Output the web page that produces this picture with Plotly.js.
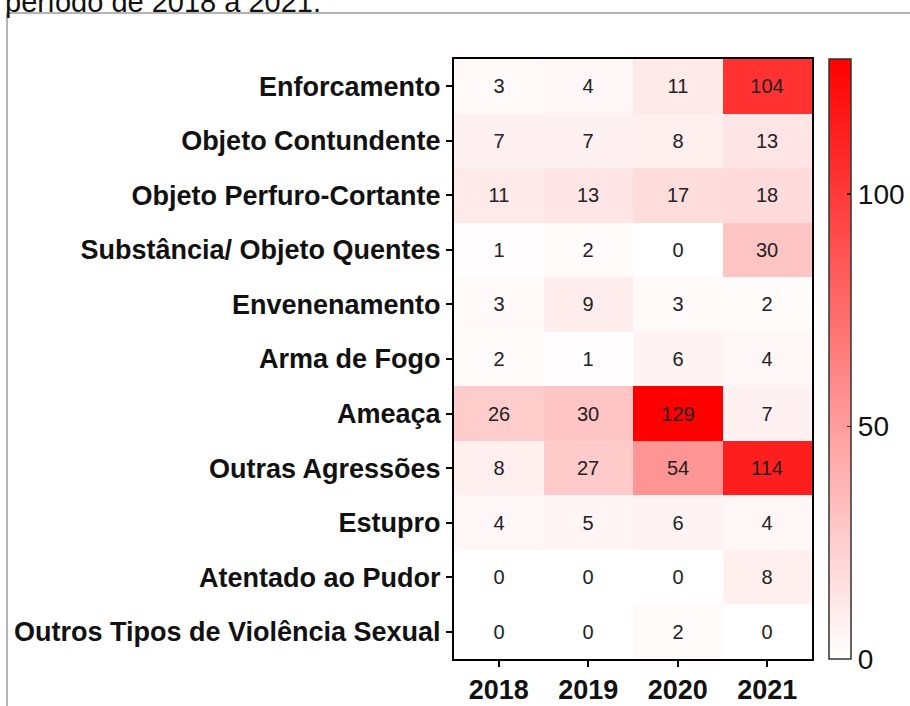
<!DOCTYPE html>
<html>
<head>
<meta charset="utf-8">
<script src="https://cdn.plot.ly/plotly-3.0.1.min.js"></script>
<style>html,body{margin:0;padding:0;background:#fff;}#chart{width:910px;height:706px;}</style>
</head>
<body>
<div id="chart"></div>
<script>
const years = ['2018', '2019', '2020', '2021'];
const categories = [
  'Enforcamento',
  'Objeto Contundente',
  'Objeto Perfuro-Cortante',
  'Substância/ Objeto Quentes',
  'Envenenamento',
  'Arma de Fogo',
  'Ameaça',
  'Outras Agressões',
  'Estupro',
  'Atentado ao Pudor',
  'Outros Tipos de Violência Sexual'
];
const enforcamento = [3, 4, 11, 104];
const objetoContundente = [7, 7, 8, 13];
const objetoPerfuroCortante = [11, 13, 17, 18];
const substanciaQuentes = [1, 2, 0, 30];
const envenenamento = [3, 9, 3, 2];
const armaDeFogo = [2, 1, 6, 4];
const ameaca = [26, 30, 129, 7];
const outrasAgressoes = [8, 27, 54, 114];
const estupro = [4, 5, 6, 4];
const atentadoAoPudor = [0, 0, 0, 8];
const outrosViolenciaSexual = [0, 0, 2, 0];
const colorbarTicks = [0, 50, 100];
const headerText = 'período de 2018 a 2021.';

const z = [enforcamento, objetoContundente, objetoPerfuroCortante, substanciaQuentes,
  envenenamento, armaDeFogo, ameaca, outrasAgressoes, estupro, atentadoAoPudor, outrosViolenciaSexual];

const FONT = 'Liberation Sans, Arial, sans-serif';
const PL = 454, PR = 812, PT = 59, PB = 659;
const PW = PR - PL, PH = PB - PT;
const px = v => (v - PL) / PW;
const py = v => (PB - v) / PH;

const trace = {
  type: 'heatmap',
  x: years,
  y: categories,
  z: z,
  zmin: 0,
  zmax: 129,
  colorscale: [[0, '#ffffff'], [1, '#ff0000']],
  texttemplate: '%{z}',
  textfont: {family: FONT, size: 20, color: '#222222'},
  xgap: 0, ygap: 0,
  hoverinfo: 'x+y+z',
  colorbar: {
    x: px(829),
    xanchor: 'left',
    y: 0.5,
    yanchor: 'middle',
    len: 1,
    lenmode: 'fraction',
    thickness: 22,
    thicknessmode: 'pixels',
    xpad: 0,
    ypad: 0,
    outlinewidth: 1.5,
    outlinecolor: '#333333',
    tickvals: colorbarTicks,
    ticks: 'inside',
    ticklen: 4,
    tickwidth: 1.5,
    tickcolor: '#222222',
    tickfont: {family: FONT, size: 28, color: '#111111'}
  }
};

const layout = {
  width: 910,
  height: 706,
  margin: {l: PL, r: 910 - PR, t: PT, b: 706 - PB, pad: 0, autoexpand: false},
  paper_bgcolor: '#ffffff',
  plot_bgcolor: '#ffffff',
  showlegend: false,
  xaxis: {
    type: 'category',
    showgrid: false,
    zeroline: false,
    showline: true,
    linecolor: '#000000',
    linewidth: 2,
    mirror: true,
    ticks: 'outside',
    ticklen: 6,
    tickwidth: 2,
    tickcolor: '#000000',
    tickfont: {family: FONT, size: 27, color: '#111111', weight: 'bold'}
  },
  yaxis: {
    type: 'category',
    autorange: 'reversed',
    showgrid: false,
    zeroline: false,
    showline: true,
    linecolor: '#000000',
    linewidth: 2,
    mirror: true,
    ticks: 'outside',
    ticklen: 6,
    tickwidth: 2,
    tickcolor: '#000000',
    tickfont: {family: FONT, size: 27, color: '#111111', weight: 'bold'}
  },
  shapes: [
    {type: 'line', xref: 'paper', yref: 'paper',
     x0: px(7), x1: px(7), y0: py(13), y1: py(706),
     line: {color: '#b4b4b4', width: 2}},
    {type: 'line', xref: 'paper', yref: 'paper',
     x0: px(7), x1: px(910), y0: py(13), y1: py(13),
     line: {color: '#b4b4b4', width: 2}}
  ],
  annotations: [
    {text: headerText, xref: 'paper', yref: 'paper',
     x: px(3), xanchor: 'left',
     y: py(2), yanchor: 'middle',
     showarrow: false,
     font: {family: FONT, size: 29, color: '#111111'}}
  ]
};

Plotly.newPlot('chart', [trace], layout, {displayModeBar: false, staticPlot: true});
</script>
</body>
</html>
